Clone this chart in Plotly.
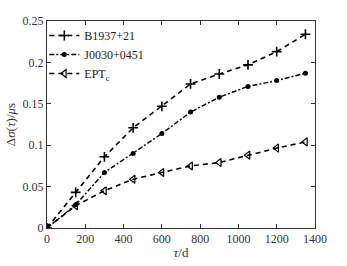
import plotly.graph_objects as go

tau = [0, 150, 300, 450, 600, 750, 900, 1050, 1200, 1350]
b1937 = [0, 0.043, 0.086, 0.121, 0.147, 0.174, 0.186, 0.197, 0.213, 0.234]
j0030 = [0, 0.028, 0.067, 0.090, 0.114, 0.140, 0.158, 0.171, 0.178, 0.187]
eptc = [0, 0.027, 0.045, 0.059, 0.067, 0.075, 0.079, 0.088, 0.0965, 0.104]

xticks = [0, 200, 400, 600, 800, 1000, 1200, 1400]
yticks = [0, 0.05, 0.1, 0.15, 0.2, 0.25]
ytext = ["0", "0.05", "0.1", "0.15", "0.2", "0.25"]

font = "Liberation Serif"

fig = go.Figure()
fig.add_trace(go.Scatter(x=tau, y=b1937, name="B1937+21", mode="lines+markers",
                         line=dict(color="black", width=1.6, dash="5px,4px"),
                         marker=dict(symbol="cross-thin", size=7, color="black",
                                     line=dict(color="black", width=1.6))))
fig.add_trace(go.Scatter(x=tau, y=j0030, name="J0030+0451", mode="lines+markers",
                         line=dict(color="black", width=1.4, dash="5px,2px,2px,2px"),
                         marker=dict(symbol="circle", size=5, color="black")))
fig.add_trace(go.Scatter(x=tau, y=eptc, name="EPT<sub>c</sub>", mode="lines+markers",
                         line=dict(color="black", width=1.6, dash="5px,4px"),
                         marker=dict(symbol="triangle-left-open", size=7, color="black",
                                     line=dict(color="black", width=1.2))))

axis_common = dict(showline=True, linecolor="#333", linewidth=1, mirror="ticks",
                   ticks="inside", ticklen=4, tickcolor="#333", showgrid=False,
                   zeroline=False, automargin=True,
                   tickfont=dict(family=font, size=12, color="#333"))

fig.update_layout(
    width=347, height=266,
    margin=dict(l=47, r=32, t=21, b=38, autoexpand=False),
    paper_bgcolor="white", plot_bgcolor="white",
    font=dict(family=font, size=12, color="#333"),
    showlegend=True,
    legend=dict(x=-0.01, y=1.0, xanchor="left", yanchor="top",
                bgcolor="rgba(0,0,0,0)", borderwidth=0,
                font=dict(family=font, size=12, color="#222"), itemwidth=30,
                tracegroupgap=0),
    xaxis=dict(range=[0, 1400], tickvals=xticks,
               title=dict(text="<i>τ</i>/d", font=dict(family=font, size=13), standoff=2),
               **axis_common),
    yaxis=dict(range=[0, 0.25], tickvals=yticks, ticktext=ytext,
               title=dict(text="Δ<i>σ</i>(<i>τ</i>)/<i>μ</i>s", font=dict(family=font, size=13), standoff=4),
               **axis_common),
)

fig.write_html("out.html", config={"displayModeBar": False},
               post_script="document.body.style.margin='0';")
